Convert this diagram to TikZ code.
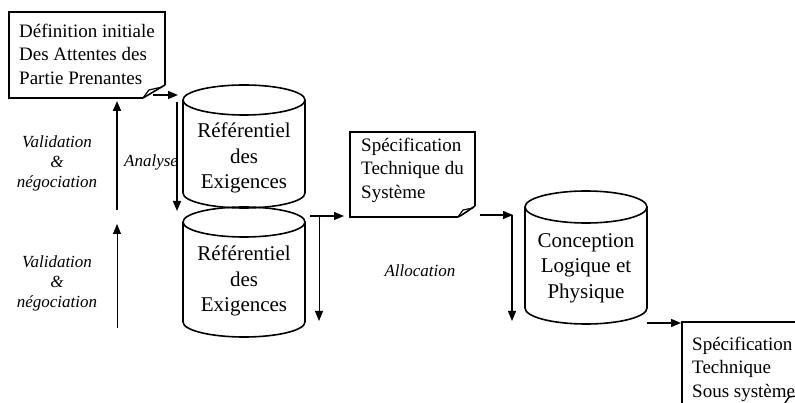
\documentclass[tikz,border=0pt]{standalone}
\usepackage{fontspec}
\setmainfont{Liberation Serif}
\usetikzlibrary{arrows.meta}
\tikzset{
  outl/.style={line width=1.6pt},
  tip/.style={-{Triangle[length=10pt,width=8pt]}},
  arrA/.style={tip, line width=1.5pt},
  arrB/.style={tip, line width=1.0pt},
  boxtxt/.style={font=\fontsize{19}{23.5}\selectfont, align=left, inner sep=0pt, anchor=west},
  cyltxt/.style={font=\fontsize{21}{25.5}\selectfont, align=center, inner sep=0pt},
  lbl/.style={font=\itshape\fontsize{17}{20}\selectfont, align=center, inner sep=0pt},
}
\begin{document}
\begin{tikzpicture}[x=1pt,y=-1pt]
\useasboundingbox[fill=white] (0,0) rectangle (795,403);

% ---------- Box 1 ----------
\draw[outl] (143,98) -- (9,98) -- (9,12) -- (165,12) -- (165,85);
\draw[outl] (165,85) .. controls (158,89) and (150,94) .. (143,98);
\draw[line width=1.2pt] (143,98) -- (149,90) -- (162,87);
\node[boxtxt] (t1) at (19,54) {Définition initiale\\Des Attentes des\\Partie Prenantes};

% ---------- Cylinder 1 ----------
\draw[outl] (244,100) ellipse [x radius=61, y radius=15];
\draw[outl] (183,100) -- (183,193) arc[start angle=180, end angle=0, x radius=61, y radius=15] -- (305,100);
\node[cyltxt] (c1) at (244,158) {Référentiel\\des\\Exigences};

% ---------- Cylinder 2 ----------
\draw[outl] (244,222) ellipse [x radius=61, y radius=15];
\draw[outl] (183,222) -- (183,322) arc[start angle=180, end angle=0, x radius=61, y radius=15] -- (305,222);
\node[cyltxt] (c2) at (244,281) {Référentiel\\des\\Exigences};

% ---------- Box 2 ----------
\draw[outl] (458,217) -- (350,217) -- (350,132) -- (475,132) -- (475,206);
\draw[outl] (475,206) .. controls (469,210) and (464,214) .. (458,217);
\draw[line width=1.2pt] (458,217) -- (463,210) -- (473,208);
\node[boxtxt] (t2) at (361,170) {Spécification\\Technique du\\Système};

% ---------- Cylinder 3 ----------
\draw[outl] (586,207) ellipse [x radius=61, y radius=16];
\draw[outl] (525,207) -- (525,308) arc[start angle=180, end angle=0, x radius=61, y radius=16] -- (647,207);
\node[cyltxt] (c3) at (586,268) {Conception\\Logique et\\Physique};

% ---------- Box 4 (cut by the page edge) ----------
\begin{scope}
\clip (0,0) rectangle (795,403);
\draw[outl] (682,410) -- (682,322) -- (800,322);
\draw[line width=1.3pt] (785,403) -- (789,397) -- (796,396);
\end{scope}
\node[boxtxt] (t4) at (692,369) {Spécification\\Technique\\Sous système};

% ---------- Labels ----------
\node[lbl] (v1) at (57,163) {Validation\\\&\\négociation};
\node[lbl] (v2) at (57,283) {Validation\\\&\\négociation};
\node[lbl, anchor=west] (an) at (124,162) {Analyse};
\node[lbl] (al) at (420,271) {Allocation};

% ---------- Connector end points ----------
\coordinate (a1s) at (153,95);  \coordinate (a1e) at (178,95);
\coordinate (ans) at (177,102); \coordinate (ane) at (177,211);
\coordinate (v1s) at (117,210); \coordinate (v1e) at (117,101);
\coordinate (v2s) at (117,328); \coordinate (v2e) at (117,224);
\coordinate (r2s) at (310,216); \coordinate (r2e) at (344,216);
\coordinate (d2s) at (319,217); \coordinate (d2e) at (319,321);
\coordinate (r3s) at (480,215); \coordinate (r3e) at (513,215);
\coordinate (d3s) at (512,215); \coordinate (d3e) at (512,321);
\coordinate (r4s) at (647,323); \coordinate (r4e) at (681,323);

% ---------- Connectors ----------
\draw[arrA] (a1s) -- (a1e);
\draw[arrA] (ans) -- (ane);
\draw[arrA, line width=1.8pt] (v1s) -- (v1e);
\draw[arrB] (v2s) -- (v2e);
\draw[arrB, line width=1.2pt] (r2s) -- (r2e);
\draw[arrB] (d2s) -- (d2e);
\draw[arrB, line width=1.2pt] (r3s) -- (r3e);
\draw[arrB, line width=1.2pt] (d3s) -- (d3e);
\draw[arrA] (r4s) -- (r4e);
\end{tikzpicture}
\end{document}
